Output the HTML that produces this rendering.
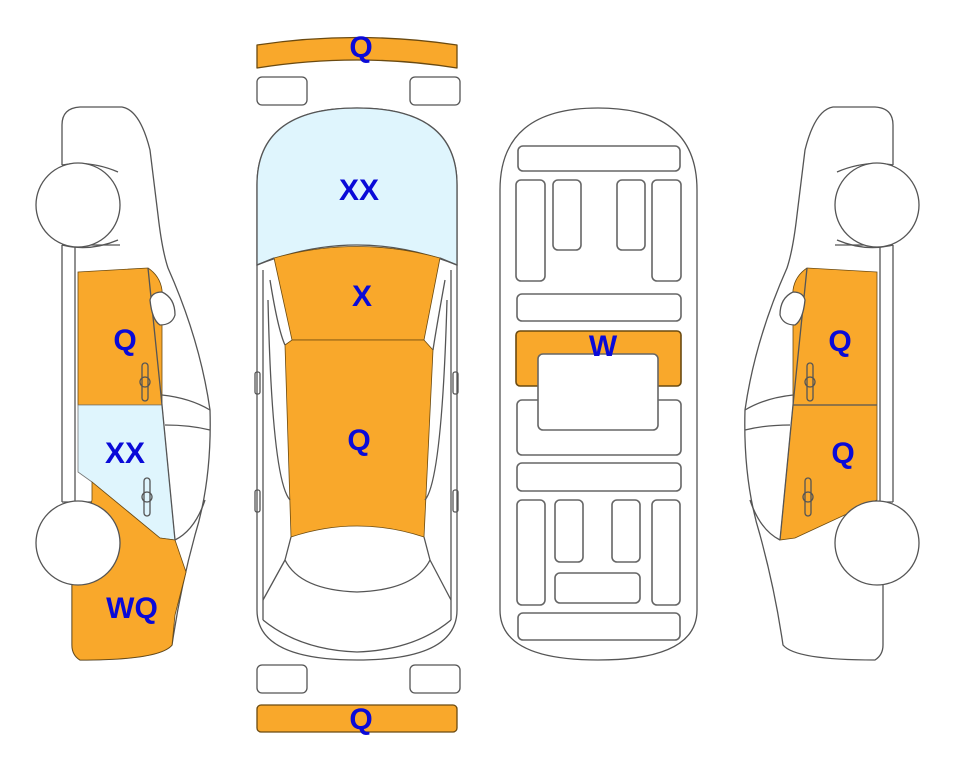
<!DOCTYPE html>
<html><head><meta charset="utf-8"><style>
html,body{margin:0;padding:0;background:#fff;width:963px;height:768px;overflow:hidden}
text{font-family:"Liberation Sans",Arial,sans-serif;font-weight:bold;font-size:30px;fill:#0a0ad8;text-anchor:middle}
</style></head><body>
<svg width="963" height="768" viewBox="0 0 963 768" xmlns="http://www.w3.org/2000/svg">
<g fill="none" stroke="#555" stroke-width="1.3">
<!-- ===== LEFT CAR ===== -->
<g id="lcar">
<path d="M62,125 Q62,108 80,107 L122,107 Q140,110 150,150 L158,215 Q162,250 168,268 Q200,340 210,410 Q212,480 195,535 Q180,590 172,645 Q160,660 80,660 Q72,655 72,645 L72,585" fill="#fff"/>
<path d="M62,125 L62,165 M62,245 L62,502 M75,245 L75,502 M62,245 L120,245 M62,502 L120,502"/>
<path d="M62,165 Q90,160 118,172 M62,245 Q90,252 118,240"/>
</g>
<!-- orange/blue regions left -->
<path d="M78,272 L148,268 Q160,276 162,290 L162,405 L78,405 Z" fill="#f9a82b" stroke="#6b4a10" stroke-width="0.8"/>
<path d="M78,405 L162,405 L175,540 L160,538 L92,482 L78,472 Z" fill="#dff5fd" stroke="#777" stroke-width="0.8"/>
<path d="M92,482 L160,538 L175,540 L186,572 L175,615 L172,645 Q160,660 80,660 Q72,655 72,645 L72,585 L92,500 Z" fill="#f9a82b" stroke="#6b4a10" stroke-width="0.8"/>
<path d="M148,268 L162,405 L175,540"/>
<path d="M162,395 Q190,398 210,410 M165,425 Q190,425 210,430 M175,540 Q195,530 205,500"/>
<path d="M150,300 Q152,292 162,292 Q175,298 175,315 Q172,325 160,325 Q152,320 150,300 Z" fill="#fff"/>
<rect x="142" y="363" width="6" height="38" rx="3"/><circle cx="145" cy="382" r="5"/>
<rect x="144" y="478" width="6" height="38" rx="3"/><circle cx="147" cy="497" r="5"/>
<circle cx="78" cy="205" r="42" fill="#fff"/>
<circle cx="78" cy="543" r="42" fill="#fff"/>

<!-- ===== RIGHT CAR (mirror) ===== -->
<g transform="translate(955,0) scale(-1,1)">
<path d="M62,125 Q62,108 80,107 L122,107 Q140,110 150,150 L158,215 Q162,250 168,268 Q200,340 210,410 Q212,480 195,535 Q180,590 172,645 Q160,660 80,660 Q72,655 72,645 L72,585" fill="#fff"/>
<path d="M62,125 L62,165 M62,245 L62,502 M75,245 L75,502 M62,245 L120,245 M62,502 L120,502"/>
<path d="M78,272 L148,268 Q160,276 162,290 L162,405 L175,540 L160,538 L78,500 Z" fill="#f9a82b" stroke="#6b4a10" stroke-width="0.8"/>
<path d="M78,405 L162,405 M148,268 L162,405 L175,540"/>
<path d="M162,395 Q190,398 210,410 M165,425 Q190,425 210,430 M175,540 Q195,530 205,500 M62,165 Q90,160 118,172 M62,245 Q90,252 118,240"/>
<path d="M150,300 Q152,292 162,292 Q175,298 175,315 Q172,325 160,325 Q152,320 150,300 Z" fill="#fff"/>
<rect x="142" y="363" width="6" height="38" rx="3"/><circle cx="145" cy="382" r="5"/>
<rect x="144" y="478" width="6" height="38" rx="3"/><circle cx="147" cy="497" r="5"/>
<circle cx="78" cy="205" r="42" fill="#fff"/>
<circle cx="78" cy="543" r="42" fill="#fff"/>
</g>

<!-- ===== CENTER TOP VIEW ===== -->
<path d="M257,45 Q357,30 457,45 L457,68 Q357,52 257,68 Z" fill="#f9a82b" stroke="#6b4a10" stroke-linejoin="round"/>
<rect x="257" y="77" width="50" height="28" rx="5"/>
<rect x="410" y="77" width="50" height="28" rx="5"/>
<path d="M257,185 Q257,108 357,108 Q457,108 457,185 L457,610 Q457,660 357,660 Q257,660 257,610 Z" fill="#fff"/>
<path d="M257,185 Q257,108 357,108 Q457,108 457,185 L457,265 Q357,225 257,265 Z" fill="#dff5fd"/>
<path d="M274,258 Q357,235 440,258 L424,340 L292,340 Z" fill="#f9a82b" stroke="#6b4a10" stroke-width="0.8"/>
<path d="M285,345 L292,340 L424,340 L433,350 L424,537 Q357,515 291,537 Z" fill="#f9a82b" stroke="#6b4a10" stroke-width="0.8"/>
<path d="M257,265 L274,258 M457,265 L440,258 M263,270 L263,620 M451,270 L451,620 M270,280 Q278,330 285,345 M445,280 Q436,330 433,350"/>
<path d="M268,300 Q272,480 290,500 M447,300 Q442,480 425,500"/>
<path d="M291,537 L285,560 Q300,590 357,592 Q415,590 430,560 L424,537"/>
<path d="M285,560 L263,600 M430,560 L451,600 M263,620 Q300,650 357,652 Q415,650 451,620"/>
<rect x="255" y="372" width="5" height="22" rx="2"/><rect x="255" y="490" width="5" height="22" rx="2"/>
<rect x="453" y="372" width="5" height="22" rx="2"/><rect x="453" y="490" width="5" height="22" rx="2"/>
<rect x="257" y="665" width="50" height="28" rx="5"/>
<rect x="410" y="665" width="50" height="28" rx="5"/>
<rect x="257" y="705" width="200" height="27" rx="4" fill="#f9a82b" stroke="#6b4a10"/>

<!-- ===== UNDERBODY ===== -->
<path d="M500,190 Q500,108 598,108 Q697,108 697,190 L697,610 Q697,660 598,660 Q500,660 500,610 Z" fill="#fff"/>
<g stroke="#666" stroke-width="1.6">
<rect x="518" y="146" width="162" height="25" rx="5"/>
<rect x="516" y="180" width="29" height="101" rx="5"/>
<rect x="553" y="180" width="28" height="70" rx="5"/>
<rect x="617" y="180" width="28" height="70" rx="5"/>
<rect x="652" y="180" width="29" height="101" rx="5"/>
<rect x="517" y="294" width="164" height="27" rx="5"/>
<rect x="516" y="331" width="165" height="55" rx="4" fill="#f9a82b" stroke="#6b4a10"/>
<rect x="517" y="400" width="164" height="55" rx="5"/>
<rect x="538" y="354" width="120" height="76" rx="5" fill="#fff"/>
<rect x="517" y="463" width="164" height="28" rx="5"/>
<rect x="517" y="500" width="28" height="105" rx="5"/>
<rect x="555" y="500" width="28" height="62" rx="5"/>
<rect x="612" y="500" width="28" height="62" rx="5"/>
<rect x="652" y="500" width="28" height="105" rx="5"/>
<rect x="555" y="573" width="85" height="30" rx="5"/>
<rect x="518" y="613" width="162" height="27" rx="5"/>
</g>
</g>

<text x="361" y="57">Q</text>
<text x="359" y="200">XX</text>
<text x="362" y="306">X</text>
<text x="359" y="450">Q</text>
<text x="361" y="729">Q</text>
<text x="603" y="356">W</text>
<text x="125" y="350">Q</text>
<text x="125" y="463">XX</text>
<text x="132" y="618">WQ</text>
<text x="840" y="351">Q</text>
<text x="843" y="463">Q</text>
</svg>
</body></html>
